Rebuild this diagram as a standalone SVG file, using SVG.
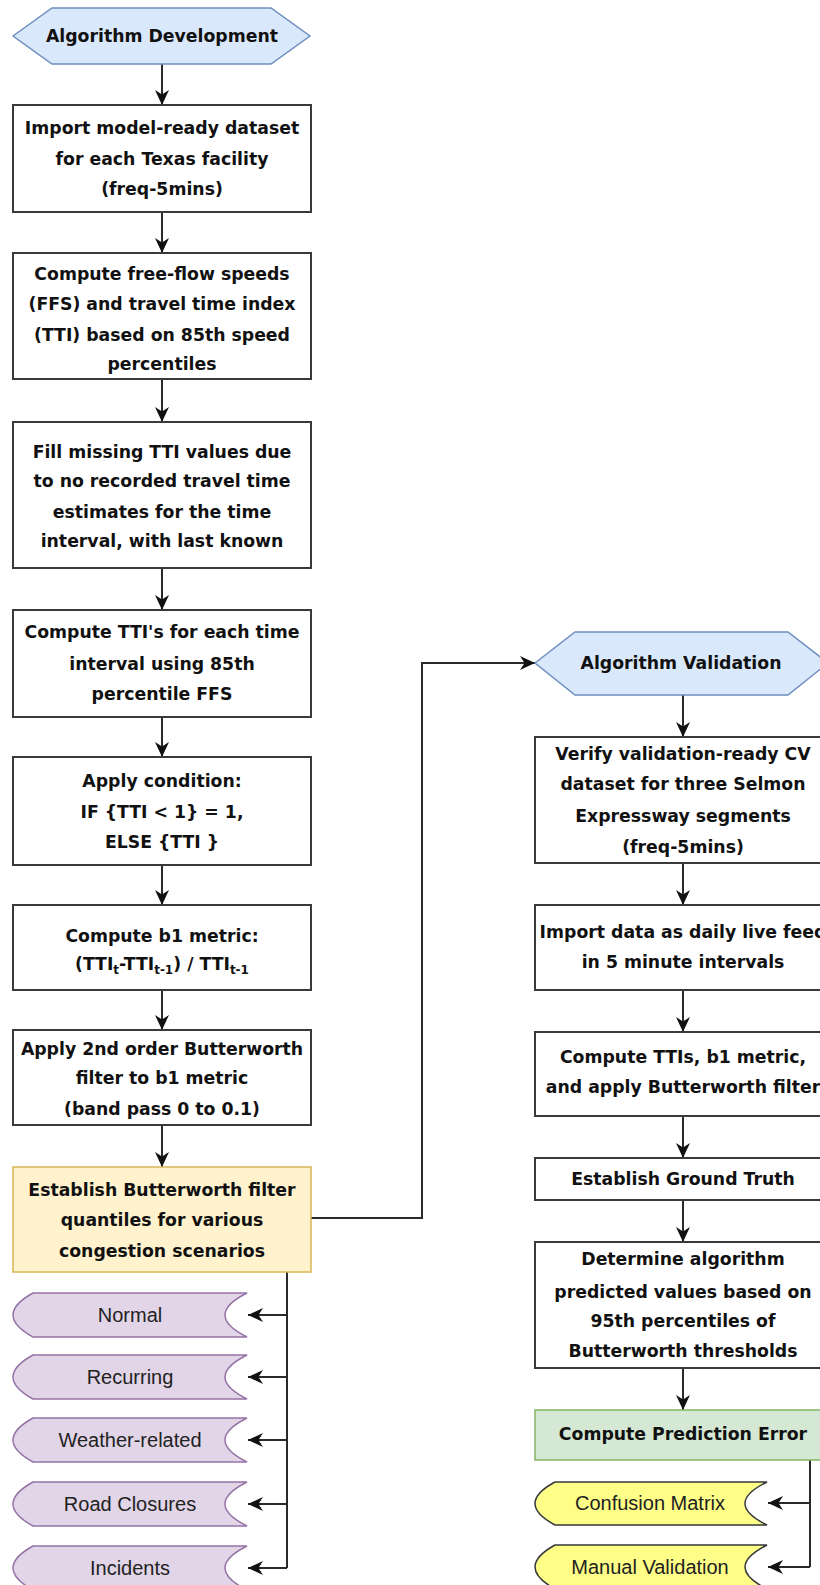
<svg xmlns="http://www.w3.org/2000/svg" width="820" height="1585" viewBox="0 0 820 1585">
<style>
  .bx { fill: #ffffff; stroke: #3a3a3a; stroke-width: 2; }
  .hex { fill: #dae8fc; stroke: #6c8ebf; stroke-width: 1.5; }
  .yel { fill: #fff2cc; stroke: #d6b656; stroke-width: 1.5; }
  .grn { fill: #d5e8d4; stroke: #82b366; stroke-width: 1.5; }
  .pur { fill: #e1d5e7; stroke: #9673a6; stroke-width: 1.5; }
  .lem { fill: #ffff88; stroke: #36393d; stroke-width: 1.5; }
  .t { font-family: "DejaVu Sans", "Liberation Sans", sans-serif; font-weight: bold; font-size: 17.3px; fill: #111; text-anchor: middle; }
  .r { font-family: "Liberation Sans", Arial, sans-serif; font-size: 20px; fill: #222; text-anchor: middle; }
  .sub { font-size: 12px; }
  .cn { fill: none; stroke: #2a2a2a; stroke-width: 2; }
</style>
<defs>
  <marker id="arr" viewBox="0 0 17 17" refX="16" refY="8.5" markerWidth="17" markerHeight="17" markerUnits="userSpaceOnUse" orient="auto">
    <path d="M1,1.5 L16,8.5 L1,15.5 L5.5,8.5 Z" fill="#111"/>
  </marker>
</defs>

<g id="connectors">
  <path class="cn" d="M162,64 V105" marker-end="url(#arr)"/>
  <path class="cn" d="M162,212 V253" marker-end="url(#arr)"/>
  <path class="cn" d="M162,379 V422" marker-end="url(#arr)"/>
  <path class="cn" d="M162,568 V610" marker-end="url(#arr)"/>
  <path class="cn" d="M162,717 V757" marker-end="url(#arr)"/>
  <path class="cn" d="M162,865 V905" marker-end="url(#arr)"/>
  <path class="cn" d="M162,990 V1030" marker-end="url(#arr)"/>
  <path class="cn" d="M162,1125 V1167" marker-end="url(#arr)"/>
  <path class="cn" d="M311,1218 H422 V663 H535" marker-end="url(#arr)"/>
  <path class="cn" d="M287,1272 V1568"/>
  <path class="cn" d="M287,1315 H248" marker-end="url(#arr)"/>
  <path class="cn" d="M287,1377 H248" marker-end="url(#arr)"/>
  <path class="cn" d="M287,1440 H248" marker-end="url(#arr)"/>
  <path class="cn" d="M287,1504 H248" marker-end="url(#arr)"/>
  <path class="cn" d="M287,1568 H248" marker-end="url(#arr)"/>
  <path class="cn" d="M683,695 V737" marker-end="url(#arr)"/>
  <path class="cn" d="M683,863 V905" marker-end="url(#arr)"/>
  <path class="cn" d="M683,990 V1032" marker-end="url(#arr)"/>
  <path class="cn" d="M683,1116 V1158" marker-end="url(#arr)"/>
  <path class="cn" d="M683,1200 V1242" marker-end="url(#arr)"/>
  <path class="cn" d="M683,1368 V1410" marker-end="url(#arr)"/>
  <path class="cn" d="M810,1460 V1567"/>
  <path class="cn" d="M810,1503 H768" marker-end="url(#arr)"/>
  <path class="cn" d="M810,1567 H768" marker-end="url(#arr)"/>
</g>

<g id="dev-start">
  <polygon class="hex" points="13,36 52,8 271,8 310,36 271,64 52,64"/>
  <text class="t" x="162" y="42">Algorithm Development</text>
</g>

<g id="import-dataset">
  <rect class="bx" x="13" y="105" width="298" height="107"/>
  <text class="t" x="162" y="134">Import model-ready dataset</text>
  <text class="t" x="162" y="165">for each Texas facility</text>
  <text class="t" x="162" y="195">(freq-5mins)</text>
</g>

<g id="compute-ffs">
  <rect class="bx" x="13" y="253" width="298" height="126"/>
  <text class="t" x="162" y="280">Compute free-flow speeds</text>
  <text class="t" x="162" y="310">(FFS) and travel time index</text>
  <text class="t" x="162" y="341">(TTI) based on 85th speed</text>
  <text class="t" x="162" y="370">percentiles</text>
</g>

<g id="fill-missing">
  <rect class="bx" x="13" y="422" width="298" height="146"/>
  <text class="t" x="162" y="458">Fill missing TTI values due</text>
  <text class="t" x="162" y="487">to no recorded travel time</text>
  <text class="t" x="162" y="518">estimates for the time</text>
  <text class="t" x="162" y="547">interval, with last known</text>
</g>

<g id="compute-tti">
  <rect class="bx" x="13" y="610" width="298" height="107"/>
  <text class="t" x="162" y="638">Compute TTI's for each time</text>
  <text class="t" x="162" y="670">interval using 85th</text>
  <text class="t" x="162" y="700">percentile FFS</text>
</g>

<g id="apply-condition">
  <rect class="bx" x="13" y="757" width="298" height="108"/>
  <text class="t" x="162" y="787">Apply condition:</text>
  <text class="t" x="162" y="818">IF {TTI &lt; 1} = 1,</text>
  <text class="t" x="162" y="848">ELSE {TTI }</text>
</g>

<g id="compute-b1">
  <rect class="bx" x="13" y="905" width="298" height="85"/>
  <text class="t" x="162" y="942">Compute b1 metric:</text>
  <text class="t" x="162" y="970">(TTI<tspan class="sub" dy="4">t</tspan><tspan dy="-4">-TTI</tspan><tspan class="sub" dy="4">t-1</tspan><tspan dy="-4">) / TTI</tspan><tspan class="sub" dy="4">t-1</tspan></text>
</g>

<g id="butterworth">
  <rect class="bx" x="13" y="1030" width="298" height="95"/>
  <text class="t" x="162" y="1055">Apply 2nd order Butterworth</text>
  <text class="t" x="162" y="1084">filter to b1 metric</text>
  <text class="t" x="162" y="1115">(band pass 0 to 0.1)</text>
</g>

<g id="establish-quantiles">
  <rect class="yel" x="13" y="1167" width="298" height="105"/>
  <text class="t" x="162" y="1196">Establish Butterworth filter</text>
  <text class="t" x="162" y="1226">quantiles for various</text>
  <text class="t" x="162" y="1257">congestion scenarios</text>
</g>

<g id="normal">
  <path class="pur" d="M33,1293 H247 Q203,1315 247,1337 H33 Q-7,1315 33,1293 Z"/>
  <text class="r" x="130" y="1322">Normal</text>
</g>
<g id="recurring">
  <path class="pur" d="M33,1355 H247 Q203,1377 247,1399 H33 Q-7,1377 33,1355 Z"/>
  <text class="r" x="130" y="1384">Recurring</text>
</g>
<g id="weather">
  <path class="pur" d="M33,1418 H247 Q203,1440 247,1462 H33 Q-7,1440 33,1418 Z"/>
  <text class="r" x="130" y="1447">Weather-related</text>
</g>
<g id="road-closures">
  <path class="pur" d="M33,1482 H247 Q203,1504 247,1526 H33 Q-7,1504 33,1482 Z"/>
  <text class="r" x="130" y="1511">Road Closures</text>
</g>
<g id="incidents">
  <path class="pur" d="M33,1546 H247 Q203,1568 247,1590 H33 Q-7,1568 33,1546 Z"/>
  <text class="r" x="130" y="1575">Incidents</text>
</g>

<g id="val-start">
  <polygon class="hex" points="535,663 575,632 788,632 828,663 788,695 575,695"/>
  <text class="t" x="681" y="669">Algorithm Validation</text>
</g>

<g id="verify-dataset">
  <rect class="bx" x="535" y="737" width="296" height="126"/>
  <text class="t" x="683" y="760">Verify validation-ready CV</text>
  <text class="t" x="683" y="790">dataset for three Selmon</text>
  <text class="t" x="683" y="822">Expressway segments</text>
  <text class="t" x="683" y="853">(freq-5mins)</text>
</g>

<g id="import-live">
  <rect class="bx" x="535" y="905" width="296" height="85"/>
  <text class="t" x="683" y="938">Import data as daily live feed</text>
  <text class="t" x="683" y="968">in 5 minute intervals</text>
</g>

<g id="compute-all">
  <rect class="bx" x="535" y="1032" width="296" height="84"/>
  <text class="t" x="683" y="1063">Compute TTIs, b1 metric,</text>
  <text class="t" x="683" y="1093">and apply Butterworth filter</text>
</g>

<g id="ground-truth">
  <rect class="bx" x="535" y="1158" width="296" height="42"/>
  <text class="t" x="683" y="1185">Establish Ground Truth</text>
</g>

<g id="determine-predicted">
  <rect class="bx" x="535" y="1242" width="296" height="126"/>
  <text class="t" x="683" y="1265">Determine algorithm</text>
  <text class="t" x="683" y="1298">predicted values based on</text>
  <text class="t" x="683" y="1327">95th percentiles of</text>
  <text class="t" x="683" y="1357">Butterworth thresholds</text>
</g>

<g id="prediction-error">
  <rect class="grn" x="535" y="1410" width="296" height="50"/>
  <text class="t" x="683" y="1440">Compute Prediction Error</text>
</g>

<g id="confusion-matrix">
  <path class="lem" d="M555,1482 H767 Q723,1503.5 767,1525 H555 Q515,1503.5 555,1482 Z"/>
  <text class="r" x="650" y="1510">Confusion Matrix</text>
</g>
<g id="manual-validation">
  <path class="lem" d="M555,1545 H767 Q723,1567 767,1589 H555 Q515,1567 555,1545 Z"/>
  <text class="r" x="650" y="1574">Manual Validation</text>
</g>
</svg>
